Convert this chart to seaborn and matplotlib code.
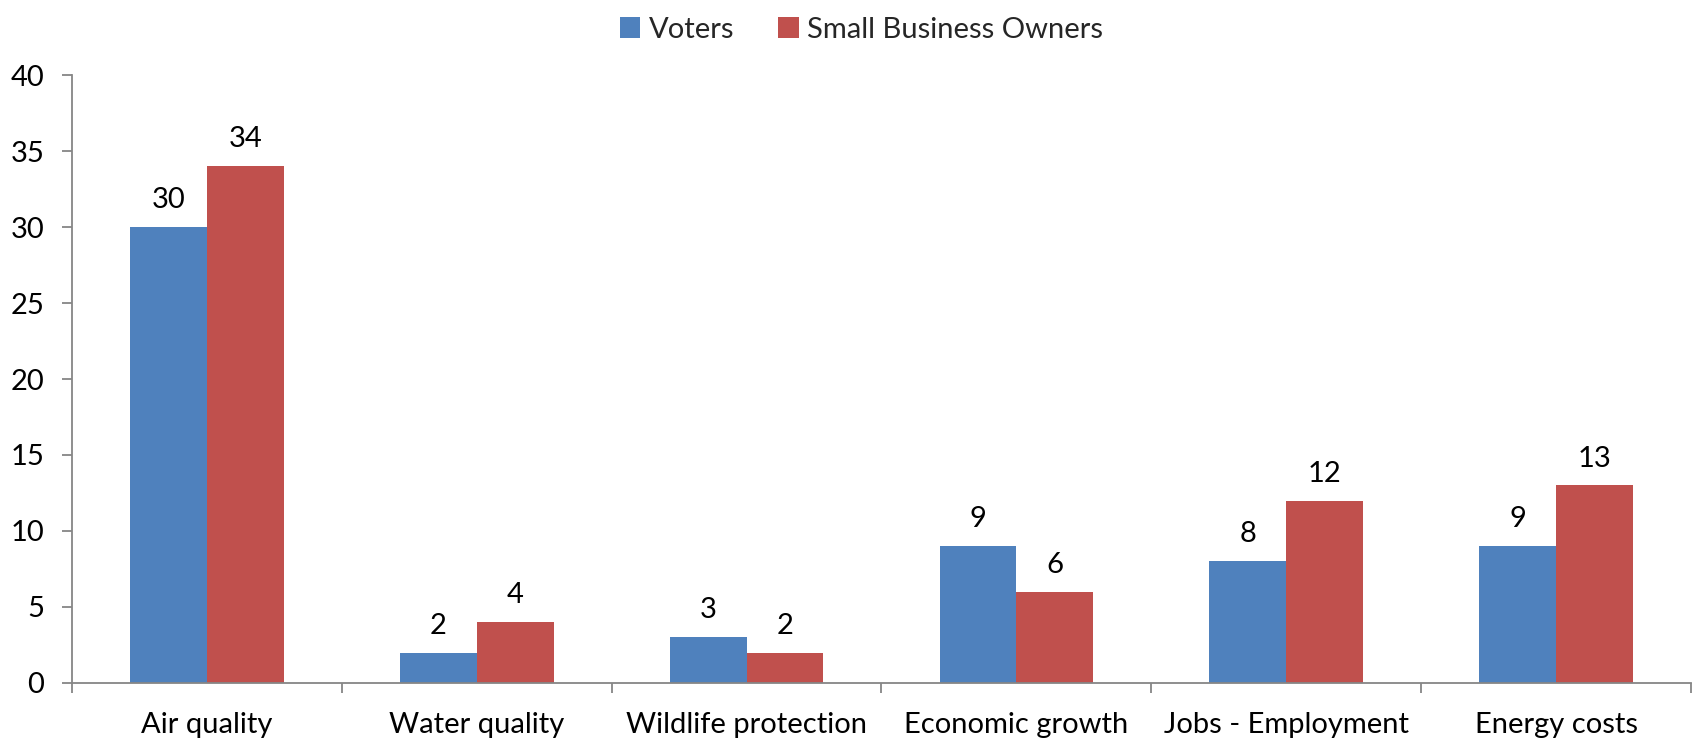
import matplotlib
matplotlib.use("Agg")
import matplotlib.pyplot as plt
import seaborn as sns
import pandas as pd
import numpy as np

categories = ["Air quality", "Water quality", "Wildlife protection",
              "Economic growth", "Jobs - Employment", "Energy costs"]
voters = [30, 2, 3, 9, 8, 9]
small_business = [34, 4, 2, 6, 12, 13]
series_names = ["Voters", "Small Business Owners"]
series_colors = ["#4F81BD", "#C0504D"]
y_ticks = [0, 5, 10, 15, 20, 25, 30, 35, 40]

df = pd.DataFrame({
    "category": categories * 2,
    "value": voters + small_business,
    "series": [series_names[0]] * len(categories) + [series_names[1]] * len(categories),
})

sns.set_style("white")
plt.rcParams["font.family"] = ["Lato", "DejaVu Sans"]
FS = 21
axis_gray = "#868686"

fig = plt.figure(figsize=(16.96, 7.43), dpi=100)
ax = fig.add_axes([0.0425, 0.0808, 0.9545, 0.8182])

sns.barplot(data=df, x="category", y="value", hue="series",
            order=categories, hue_order=series_names,
            palette=series_colors, width=0.57, linewidth=0,
            saturation=1, ax=ax, legend=True)

for cont in ax.containers:
    ax.bar_label(cont, fmt="%g", padding=10, fontsize=FS, color="black")

ax.set_xlim(-0.5, len(categories) - 0.5)
ax.set_ylim(0, 40)
ax.set_yticks(y_ticks)
ax.set_xlabel("")
ax.set_ylabel("")

for side in ("top", "right"):
    ax.spines[side].set_visible(False)
for side in ("left", "bottom"):
    ax.spines[side].set_color(axis_gray)
    ax.spines[side].set_linewidth(1.3)

ax.tick_params(axis="y", which="major", left=True, length=7, width=1.3,
               color=axis_gray, pad=13, labelsize=FS, labelcolor="black")
ax.tick_params(axis="x", which="major", bottom=False, length=0, pad=21,
               labelsize=FS, labelcolor="black")
ax.set_xticks(np.arange(-0.5, len(categories)), minor=True)
ax.tick_params(axis="x", which="minor", bottom=True, length=7, width=1.3,
               color=axis_gray)

handles, labels = ax.get_legend_handles_labels()
ax.legend_.remove()
fig.legend(handles, labels, loc="center", bbox_to_anchor=(0.508, 0.96),
           ncol=2, frameon=False, fontsize=FS, handlelength=0.7,
           handleheight=0.7, handletextpad=0.3, columnspacing=1.5)

fig.savefig("out.png", dpi=100)
